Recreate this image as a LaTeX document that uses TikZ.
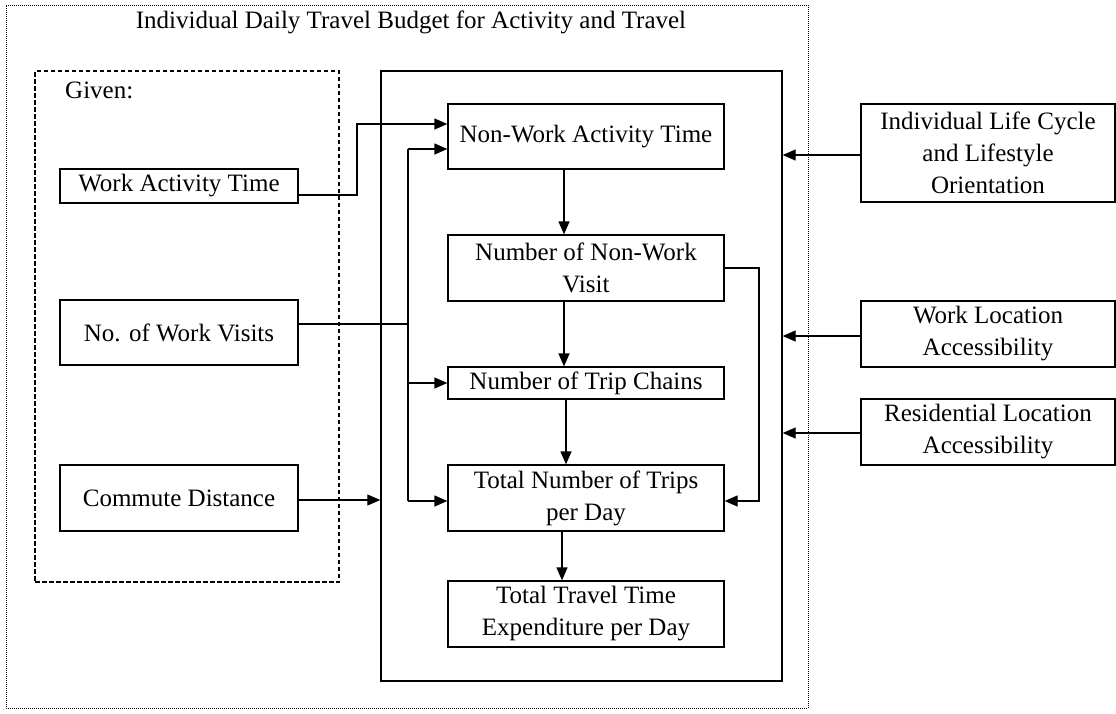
\documentclass[tikz,border=0pt]{standalone}
\usepackage{fontspec}
\setmainfont{Liberation Serif}
\usetikzlibrary{arrows.meta}
\begin{document}
\begin{tikzpicture}[x=1pt,y=-1pt,
  box/.style={draw, line width=1.3pt, inner sep=0pt, align=center, font=\fontsize{25}{32}\selectfont},
  frame/.style={draw, inner sep=0pt},
  arr/.style={line width=1.3pt, -{Triangle[length=13pt,width=11pt]}},
  ln/.style={line width=1.3pt},
  txt/.style={inner sep=0pt, font=\fontsize{25}{32}\selectfont}]
\useasboundingbox (0,0) rectangle (1116,713);
% frames
\node[frame, dash pattern=on 1pt off 1pt, line width=1pt, minimum width=802pt, minimum height=703pt] (outer) at (407,356.5) {};
\node[frame, dash pattern=on 4.5pt off 2.5pt, line width=1.3pt, minimum width=304pt, minimum height=511pt] (given) at (187,326.5) {};
\node[frame, line width=1.4pt, minimum width=401pt, minimum height=610pt] (inner) at (581.5,376) {};
\node[txt] (title) at (411,22) {Individual Daily Travel Budget for Activity and Travel};
\node[txt, anchor=west] (giventxt) at (65,90) {Given:};
% left boxes
\node[box, minimum width=238pt, minimum height=34pt] (wat) at (179,186) {Work Activity Time};
\node[box, minimum width=238pt, minimum height=65pt] (nwvg) at (179,332.5) {No. of Work Visits};
\node[box, minimum width=238pt, minimum height=66pt] (cd) at (179,498) {Commute Distance};
% centre boxes
\node[box, minimum width=276pt, minimum height=65pt] (nwat) at (586,136.5) {Non-Work Activity Time};
\node[box, minimum width=276pt, minimum height=66pt] (nnwv) at (586,268) {Number of Non-Work\\Visit};
\node[box, minimum width=276pt, minimum height=32pt] (ntc) at (586,383) {Number of Trip Chains};
\node[box, minimum width=276pt, minimum height=66pt] (tnt) at (586,498) {Total Number of Trips\\per Day};
\node[box, minimum width=276pt, minimum height=66pt] (ttt) at (586,614) {Total Travel Time\\Expenditure per Day};
% right boxes
\node[box, minimum width=254pt, minimum height=98pt] (lc) at (988,153) {Individual Life Cycle\\and Lifestyle\\Orientation};
\node[box, minimum width=254pt, minimum height=66pt] (wla) at (988,334) {Work Location\\Accessibility};
\node[box, minimum width=254pt, minimum height=66pt] (rla) at (988,432) {Residential Location\\Accessibility};
% connectors
\coordinate (elbow) at (357,195);
\draw[arr] ([yshift=-9pt]wat.east) -- (elbow) |- ([yshift=12.5pt]nwat.west);
\coordinate (bustop) at (408,149);
\coordinate (busmid) at (408,324);
\coordinate (busbot) at (408,501);
\draw[ln] ([yshift=8.5pt]nwvg.east) -- (busmid);
\draw[ln] (bustop) -- (busbot);
\draw[arr] (bustop) -- ([yshift=-12.5pt]nwat.west);
\draw[arr] (bustop |- ntc.west) -- (ntc.west);
\draw[arr] (busbot) -- ([yshift=-3pt]tnt.west);
\draw[arr] ([yshift=-2pt]cd.east) -- ([yshift=-2pt]cd.east -| inner.west);
\draw[arr] ([xshift=-22pt]nwat.south) -- ([xshift=-22pt]nnwv.north);
\draw[arr] ([xshift=-22pt]nnwv.south) -- ([xshift=-22pt]ntc.north);
\draw[arr] ([xshift=-20pt]ntc.south) -- ([xshift=-20pt]tnt.north);
\draw[arr] ([xshift=-24pt]tnt.south) -- ([xshift=-24pt]ttt.north);
\coordinate (rbend) at (759,268);
\draw[arr] (nnwv.east) -- (rbend) |- ([yshift=-3pt]tnt.east);
\draw[arr] ([yshift=-2pt]lc.west) -- ([yshift=-2pt]lc.west -| inner.east);
\draw[arr] ([yshift=-2pt]wla.west) -- ([yshift=-2pt]wla.west -| inner.east);
\draw[arr] ([yshift=-1pt]rla.west) -- ([yshift=-1pt]rla.west -| inner.east);
\end{tikzpicture}
\end{document}
